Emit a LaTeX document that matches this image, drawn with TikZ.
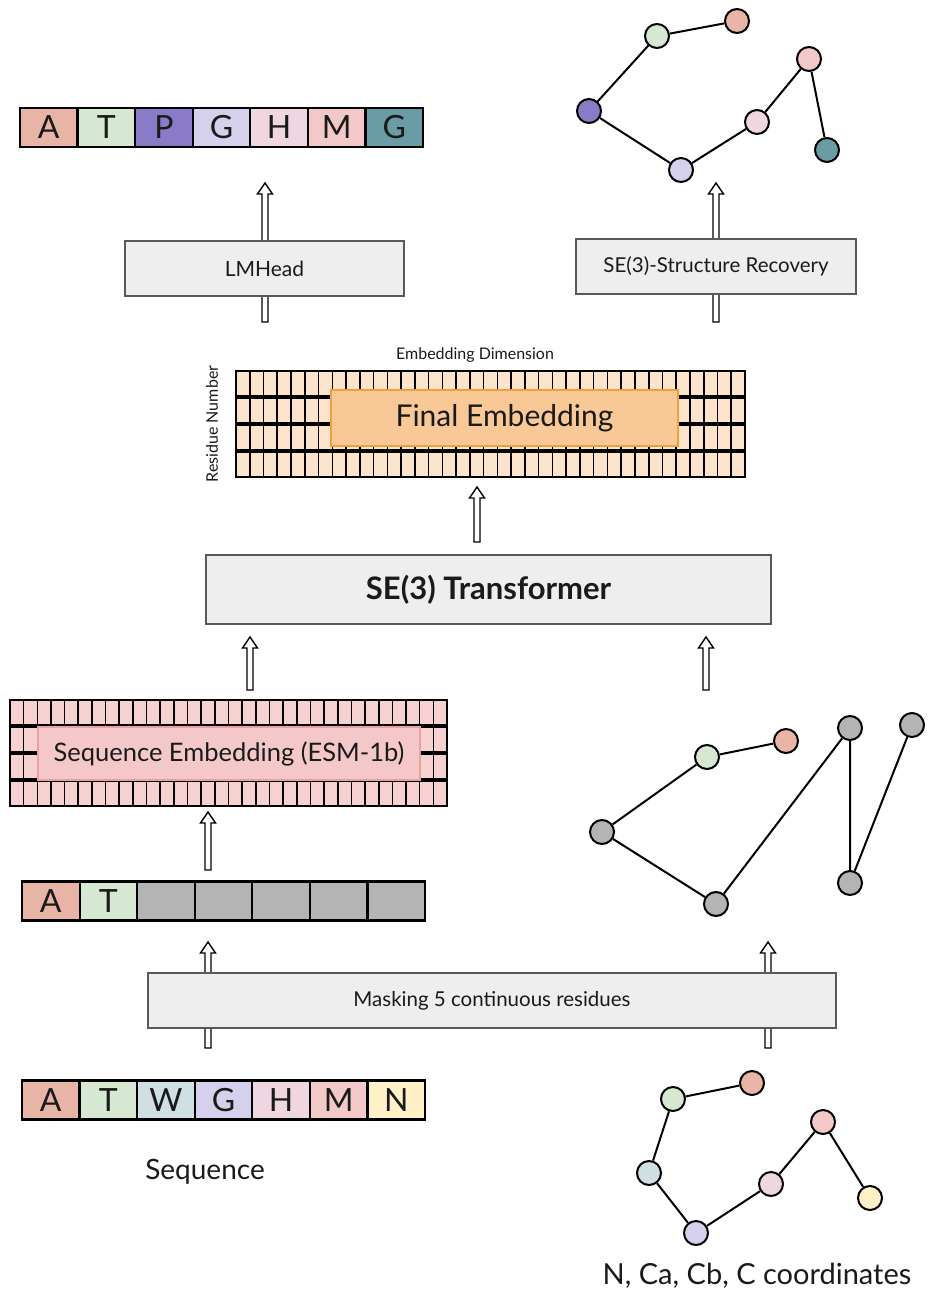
\documentclass[tikz,border=0pt]{standalone}
\usepackage{fontspec}
\setmainfont{Lato}
\usetikzlibrary{calc}
\definecolor{cA}{HTML}{E8B4A6}
\definecolor{cT}{HTML}{D6E8D2}
\definecolor{cP}{HTML}{8A7BC6}
\definecolor{cG}{HTML}{D5D1EC}
\definecolor{cH}{HTML}{EFD6E0}
\definecolor{cM}{HTML}{F3C8C8}
\definecolor{cGt}{HTML}{6A9CA6}
\definecolor{cW}{HTML}{D0DFE4}
\definecolor{cN}{HTML}{FFF0C8}
\definecolor{cGr}{HTML}{B4B4B4}
\definecolor{boxgray}{HTML}{EEEEEE}
\definecolor{peach}{HTML}{FCE3CC}
\definecolor{orangefill}{HTML}{F8C996}
\definecolor{orangeline}{HTML}{F0A036}
\definecolor{pinkcell}{HTML}{F7D0D0}
\definecolor{pinkfill}{HTML}{F4C8C8}
\definecolor{pinkline}{HTML}{E9A2A2}
\definecolor{txt}{HTML}{1A1A1A}
\newcommand\hup[2]{\draw[harrow] let \p1=(#1), \p2=(#2) in
  (\x1-3pt,\y1) -- (\x1-3pt,\y2-11pt) -- (\x1-7.5pt,\y2-11pt) -- (\x1,\y2)
  -- (\x1+7.5pt,\y2-11pt) -- (\x1+3pt,\y2-11pt) -- (\x1+3pt,\y1) -- cycle;}
\tikzset{
  res/.style={draw=black, line width=2.2pt, minimum width=57.6pt, minimum height=39pt,
    inner sep=0pt, font=\fontsize{32}{32}\selectfont, text=txt},
  atom/.style={circle, draw=black, line width=2pt, minimum size=24pt, inner sep=0pt},
  bond/.style={line width=2pt, draw=black},
  graybox/.style={draw=black!65, fill=boxgray, line width=1.8pt, inner sep=0pt, text=txt},
  harrow/.style={draw=black, fill=white, line width=1.4pt, line join=miter},
  fcell/.style={draw=black, fill=peach, line width=1.6pt},
  scell/.style={draw=black, fill=pinkcell, line width=1.6pt},
}
\begin{document}
\begin{tikzpicture}[x=1pt,y=-1pt]
\useasboundingbox[fill=white] (0,0) rectangle (930,1295);

% ---------- arrows (drawn first, behind boxes)
\coordinate (a1b) at (265,322); \coordinate (a1t) at (265,183);
\coordinate (a2b) at (716,322); \coordinate (a2t) at (716,183);
\coordinate (a3b) at (477,542); \coordinate (a3t) at (477,487);
\coordinate (a4b) at (250,690); \coordinate (a4t) at (250,637);
\coordinate (a5b) at (706,690); \coordinate (a5t) at (706,637);
\coordinate (a6b) at (208,870); \coordinate (a6t) at (208,812);
\coordinate (a7b) at (208,1048); \coordinate (a7t) at (208,942);
\coordinate (a8b) at (768,1048); \coordinate (a8t) at (768,942);
\hup{a1b}{a1t}\hup{a2b}{a2t}\hup{a3b}{a3t}\hup{a4b}{a4t}
\hup{a5b}{a5t}\hup{a6b}{a6t}\hup{a7b}{a7t}\hup{a8b}{a8t}

% ---------- top sequence
\foreach \l/\c [count=\i] in {A/cA,T/cT,P/cP,G/cG,H/cH,M/cM,G/cGt}
  \node[res, fill=\c] (s\i) at ({48.8+57.57*(\i-1)},127.5) {\l};

% ---------- top structure
\node[atom, fill=cA] (t1) at (737,21) {};
\node[atom, fill=cT] (t2) at (657,36) {};
\node[atom, fill=cP] (t3) at (589,111) {};
\node[atom, fill=cG] (t4) at (681,170) {};
\node[atom, fill=cH] (t5) at (757,122) {};
\node[atom, fill=cM] (t6) at (809,59) {};
\node[atom, fill=cGt] (t7) at (827,150) {};
\draw[bond] (t1) -- (t2) -- (t3) -- (t4) -- (t5) -- (t6) -- (t7);

% ---------- heads
\node[graybox, minimum width=279pt, minimum height=55pt, font=\fontsize{21}{21}\selectfont] (lm) at (264.5,268.5) {LMHead};
\node[graybox, minimum width=280pt, minimum height=55pt, font=\fontsize{20.5}{21}\selectfont] (rec) at (716,266.5) {SE(3)-Structure Recovery};

% ---------- final embedding grid
\node[font=\fontsize{16}{16}\selectfont, text=txt] (edim) at (475,355) {Embedding Dimension};
\node[rotate=90, font=\fontsize{16}{16}\selectfont, text=txt] (rnum) at (212,424) {Residue Number};
\foreach \r in {0,...,3}
  \foreach \c in {0,...,36}
    \draw[fcell] ({236+13.757*\c},{371+27*\r}) rectangle ++(13.757,25);
\node[draw=orangeline, fill=orangefill, line width=1.5pt, minimum width=347pt, minimum height=56pt,
  inner sep=0pt, font=\fontsize{30}{30}\selectfont, text=txt] (fe) at (504.5,418) {Final Embedding};

% ---------- transformer
\node[graybox, minimum width=565pt, minimum height=69pt, font=\fontsize{31}{31}\selectfont\bfseries] (tr) at (488.5,589.5) {SE(3) Transformer};

% ---------- sequence embedding grid
\foreach \r in {0,...,3}
  \foreach \c in {0,...,31}
    \draw[scell] ({10+13.656*\c},{700+27*\r}) rectangle ++(13.656,25);
\node[draw=pinkline, fill=pinkfill, line width=1.2pt, minimum width=382pt, minimum height=53pt,
  inner sep=0pt, font=\fontsize{25.5}{26}\selectfont, text=txt] (se) at (229,753.5) {Sequence Embedding (ESM-1b)};

% ---------- masked sequence
\node[res, fill=cA] (m1) at (50.8,901) {A};
\node[res, fill=cT] (m2) at (108.4,901) {T};
\foreach \i in {3,...,7}
  \node[res, fill=cGr] (m\i) at ({50.8+57.57*(\i-1)},901) {};

% ---------- middle structure
\node[atom, fill=cA] (u1) at (786,741) {};
\node[atom, fill=cT] (u2) at (707,757) {};
\node[atom, fill=cGr] (u3) at (602,832) {};
\node[atom, fill=cGr] (u4) at (716,904) {};
\node[atom, fill=cGr] (u5) at (850,728) {};
\node[atom, fill=cGr] (u6) at (850,883) {};
\node[atom, fill=cGr] (u7) at (912,725) {};
\draw[bond] (u1) -- (u2) -- (u3) -- (u4) -- (u5) -- (u6) -- (u7);

% ---------- masking
\node[graybox, minimum width=688pt, minimum height=55pt, font=\fontsize{20.5}{21}\selectfont] (mask) at (492,1000.5) {Masking 5 continuous residues};

% ---------- input sequence
\foreach \l/\c [count=\i] in {A/cA,T/cT,W/cW,G/cG,H/cH,M/cM,N/cN}
  \node[res, fill=\c] (b\i) at ({50.8+57.57*(\i-1)},1100) {\l};
\node[font=\fontsize{28}{28}\selectfont, text=txt] (seqlab) at (205,1172) {Sequence};

% ---------- input structure
\node[atom, fill=cA] (v1) at (752,1083) {};
\node[atom, fill=cT] (v2) at (673,1099) {};
\node[atom, fill=cW] (v3) at (649,1173) {};
\node[atom, fill=cG] (v4) at (696,1233) {};
\node[atom, fill=cH] (v5) at (771,1184) {};
\node[atom, fill=cM] (v6) at (823,1122) {};
\node[atom, fill=cN] (v7) at (870,1198) {};
\draw[bond] (v1) -- (v2) -- (v3) -- (v4) -- (v5) -- (v6) -- (v7);
\node[font=\fontsize{29}{29}\selectfont, text=txt] (coordlab) at (757,1276) {N, Ca, Cb, C coordinates};
\end{tikzpicture}
\end{document}
